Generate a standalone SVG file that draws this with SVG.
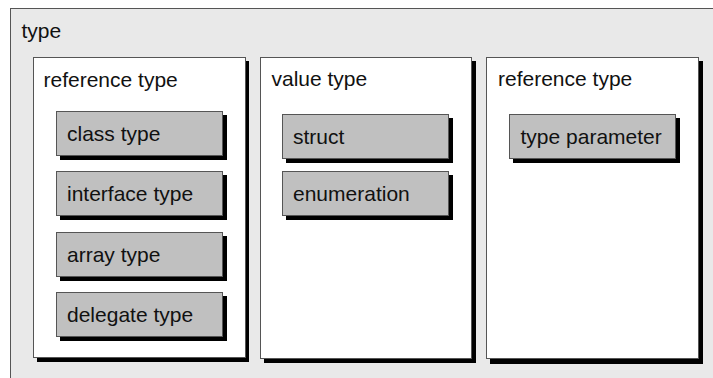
<svg xmlns="http://www.w3.org/2000/svg" width="713" height="378" viewBox="0 0 713 378">
<style>
text{font-family:"Liberation Sans",Arial,sans-serif;font-size:21px;fill:#111}
.outer{fill:#e9e9e9;stroke:#555;stroke-width:1}
.panel{fill:#fff;stroke:#555;stroke-width:1}
.box{fill:#c0c0c0;stroke:#555;stroke-width:1}
.sh{fill:#000}
</style>
<rect width="713" height="378" fill="#fff"/>
<g id="type">
<rect class="outer" x="10.5" y="8.5" width="720" height="400"/>
<text x="21.5" y="37.5">type</text>
</g>
<g id="panel-reference-type-1">
<rect class="sh" x="37" y="61" width="212" height="301"/>
<rect class="panel" x="33.5" y="57.5" width="212" height="300"/>
<text x="43.5" y="87">reference type</text>
</g>
<g id="class-type">
<rect class="sh" x="60" y="115" width="167" height="45"/>
<rect class="box" x="56.5" y="111.5" width="166" height="44"/>
<text x="67" y="141">class type</text>
</g>
<g id="interface-type">
<rect class="sh" x="60" y="175" width="167" height="45"/>
<rect class="box" x="56.5" y="171.5" width="166" height="44"/>
<text x="67" y="201">interface type</text>
</g>
<g id="array-type">
<rect class="sh" x="60" y="236" width="167" height="45"/>
<rect class="box" x="56.5" y="232.5" width="166" height="44"/>
<text x="67" y="262">array type</text>
</g>
<g id="delegate-type">
<rect class="sh" x="60" y="296" width="167" height="45"/>
<rect class="box" x="56.5" y="292.5" width="166" height="44"/>
<text x="67" y="322">delegate type</text>
</g>
<g id="panel-value-type">
<rect class="sh" x="264" y="61" width="212" height="302"/>
<rect class="panel" x="260.5" y="57.5" width="211" height="301"/>
<text x="271.5" y="86">value type</text>
</g>
<g id="struct">
<rect class="sh" x="286" y="118" width="167" height="45"/>
<rect class="box" x="282.5" y="114.5" width="166" height="44"/>
<text x="293" y="144">struct</text>
</g>
<g id="enumeration">
<rect class="sh" x="286" y="175" width="167" height="45"/>
<rect class="box" x="282.5" y="171.5" width="166" height="44"/>
<text x="293" y="201">enumeration</text>
</g>
<g id="panel-reference-type-2">
<rect class="sh" x="490" y="61" width="213" height="303"/>
<rect class="panel" x="486.5" y="57.5" width="212" height="301"/>
<text x="498" y="86">reference type</text>
</g>
<g id="type-parameter">
<rect class="sh" x="513" y="118" width="167" height="45"/>
<rect class="box" x="509.5" y="114.5" width="166" height="44"/>
<text x="520.5" y="144">type parameter</text>
</g>
<g id="connectors"/>
</svg>
